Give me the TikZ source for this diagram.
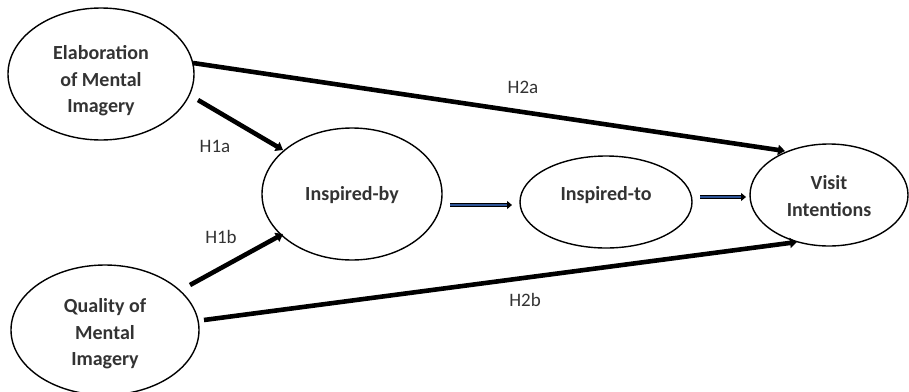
\documentclass[tikz,border=0pt]{standalone}
\usepackage{fontspec}
\setmainfont{Carlito}
\usetikzlibrary{arrows.meta}
\definecolor{txt}{HTML}{333333}
\definecolor{flow}{HTML}{2F5597}
\begin{document}
\begin{tikzpicture}[x=1pt,y=-1pt,
  rim/.style={line width=1.4pt},
  construct/.style={text=txt, font=\fontsize{20}{26.5}\selectfont\bfseries, align=center, inner sep=0pt},
  path/.style={line width=4.6pt, -{Triangle[length=7pt,width=10pt]}},
  flowarrow/.style={draw=black, line width=0.8pt, double=flow, double distance=2.6pt,
    -{Triangle[length=5pt,width=8pt]}},
  hyp/.style={text=txt, font=\fontsize{19}{22}\selectfont}]
\useasboundingbox (0,0) rectangle (909,391);
% constructs: outlines and their captions
\draw[rim] (101,74) ellipse [x radius=93, y radius=66];
\node[construct] (elab) at (101,81) {Elaboration\\of Mental\\Imagery};
\draw[rim] (105,330) ellipse [x radius=94, y radius=65];
\node[construct] (qual) at (105,334) {Quality of\\Mental\\Imagery};
\draw[rim] (352,194) ellipse [x radius=90, y radius=66];
\node[construct] (by) at (352,195) {Inspired-by};
\draw[rim] (606,202) ellipse [x radius=86, y radius=46];
\node[construct] (to) at (606,195) {Inspired-to};
\draw[rim] (829,195) ellipse [x radius=79, y radius=51];
\node[construct] (visit) at (829,196) {Visit\\Intentions};
% arrow end points on the outlines
\coordinate (a1) at (193,63);  \coordinate (a2) at (785,151);
\coordinate (b1) at (198,100); \coordinate (b2) at (283,150);
\coordinate (c1) at (190,285); \coordinate (c2) at (283,234);
\coordinate (d1) at (204,320); \coordinate (d2) at (797,242);
\coordinate (e1) at (450,205); \coordinate (e2) at (512,205);
\coordinate (f1) at (700,197); \coordinate (f2) at (746,197);
\draw[path] (a1) -- (a2);
\draw[path] (b1) -- (b2);
\draw[path] (c1) -- (c2);
\draw[path] (d1) -- (d2);
\draw[flowarrow] (e1) -- (e2);
\draw[flowarrow] (f1) -- (f2);
% hypothesis labels
\node[hyp] (h2a) at (523,87) {H2a};
\node[hyp] (h1a) at (215,146) {H1a};
\node[hyp] (h1b) at (221,237) {H1b};
\node[hyp] (h2b) at (525,300) {H2b};
\end{tikzpicture}
\end{document}
